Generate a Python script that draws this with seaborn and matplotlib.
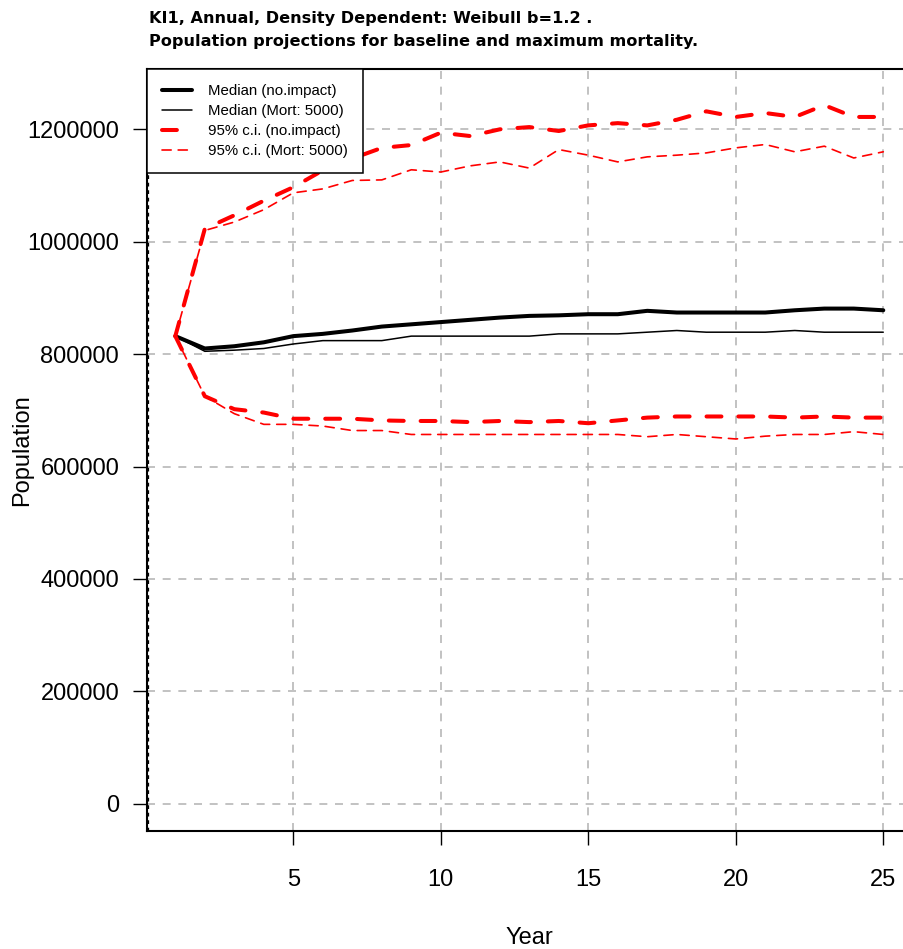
import matplotlib
matplotlib.use("Agg")
import matplotlib.pyplot as plt
import numpy as np
import pandas as pd
import seaborn as sns

# Projection years
years = list(range(1, 26))

# Population projections (individuals)
median_base = [832000, 810000, 814000, 821000, 832000, 836000, 842000, 849000, 853000,
               857000, 861000, 865000, 868000, 869000, 871000, 871000, 877000, 874000,
               874000, 874000, 874000, 878000, 881000, 881000, 878000]
median_mort = [832000, 805000, 807000, 810000, 818000, 824000, 824000, 824000, 832000,
               832000, 832000, 832000, 832000, 836000, 836000, 836000, 839000, 842000,
               839000, 839000, 839000, 842000, 839000, 839000, 839000]
upper_base = [832000, 1023000, 1047000, 1073000, 1097000, 1127000, 1148000, 1167000,
              1172000, 1194000, 1188000, 1200000, 1204000, 1197000, 1207000, 1211000,
              1207000, 1217000, 1232000, 1222000, 1229000, 1222000, 1243000, 1222000,
              1222000]
upper_mort = [832000, 1020000, 1035000, 1057000, 1087000, 1094000, 1109000, 1110000,
              1128000, 1124000, 1135000, 1142000, 1131000, 1164000, 1154000, 1142000,
              1151000, 1154000, 1158000, 1167000, 1173000, 1160000, 1170000, 1149000,
              1160000]
lower_base = [832000, 725000, 702000, 696000, 685000, 685000, 685000, 682000, 681000,
              681000, 679000, 681000, 679000, 681000, 677000, 682000, 687000, 689000,
              689000, 689000, 689000, 687000, 689000, 687000, 687000]
lower_mort = [832000, 725000, 694000, 675000, 675000, 672000, 664000, 664000, 657000,
              657000, 657000, 657000, 657000, 657000, 657000, 657000, 653000, 657000,
              653000, 649000, 654000, 657000, 657000, 662000, 657000]

x_ticks = [5, 10, 15, 20, 25]
y_ticks = [0, 200000, 400000, 600000, 800000, 1000000, 1200000]

title_lines = ["KI1, Annual, Density Dependent: Weibull b=1.2 .",
               "Population projections for baseline and maximum mortality."]
legend_labels = ["Median (no.impact)", "Median (Mort: 5000)",
                 "95% c.i. (no.impact)", "95% c.i. (Mort: 5000)"]

sns.set_style("white")
plt.rcParams["font.family"] = ["Liberation Sans", "DejaVu Sans"]
plt.rcParams["text.color"] = "black"
plt.rcParams["axes.labelcolor"] = "black"

W, H = 904, 949
fig = plt.figure(figsize=(W / 100, H / 100), dpi=100)
ax = fig.add_axes([147 / W, 1 - 831 / H, 764.6 / W, 761.7 / H])

thick_dash = (0, (3.7, 4.2))
thin_dash = (0, (5.5, 4.2))
common = dict(dash_capstyle="round", solid_capstyle="round",
              dash_joinstyle="round", solid_joinstyle="round")

sns.lineplot(x=years, y=median_base, ax=ax, color="black", lw=2.9,
             label=legend_labels[0], **common)
sns.lineplot(x=years, y=median_mort, ax=ax, color="black", lw=1.1,
             label=legend_labels[1], **common)
sns.lineplot(x=years, y=upper_base, ax=ax, color="#ff0000", lw=2.9,
             linestyle=thick_dash, label=legend_labels[2], **common)
sns.lineplot(x=years, y=upper_mort, ax=ax, color="#ff0000", lw=1.2,
             linestyle=thin_dash, label=legend_labels[3], **common)
sns.lineplot(x=years, y=lower_base, ax=ax, color="#ff0000", lw=2.9,
             linestyle=thick_dash, **common)
sns.lineplot(x=years, y=lower_mort, ax=ax, color="#ff0000", lw=1.2,
             linestyle=thin_dash, **common)

ax.set_xlim(0.04, 25.96)
ax.set_ylim(-48600, 1306800)
ax.set_xticks(x_ticks)
ax.set_xticklabels([str(v) for v in x_ticks])
ax.set_yticks(y_ticks)
ax.set_yticklabels([str(v) for v in y_ticks])

# dashed reference grid
ax.set_axisbelow(True)
ax.grid(True, color="#b8b8b8", lw=1.2, linestyle=(0, (4.8, 4.6)))
ax.axvline(0.07, color="black", lw=0.9, linestyle=(0, (3, 3)), zorder=1)

for side in ["top", "left", "bottom", "right"]:
    ax.spines[side].set_visible(True)
    ax.spines[side].set_color("black")
    ax.spines[side].set_linewidth(1.5)

ax.tick_params(axis="both", direction="out", length=10, width=1.0,
               colors="black", labelsize=17, left=True, bottom=True)
ax.tick_params(axis="x", pad=17.5)
ax.tick_params(axis="y", pad=10)

ax.set_xlabel("Year", fontsize=17, color="black")
ax.xaxis.set_label_coords(0.5, -(938 - 831) / 761.7)
ax.xaxis.label.set_va("center")
ax.set_ylabel("Population", fontsize=17, color="black")
ax.yaxis.set_label_coords((22 - 147) / 764.6, 0.5)
ax.yaxis.label.set_va("center")

leg = ax.legend(loc="upper left", bbox_to_anchor=(0, 1), borderaxespad=0,
                fontsize=10.8, frameon=True, fancybox=False, shadow=False,
                handlelength=2.0, handletextpad=1.1, borderpad=1.0,
                labelspacing=0.4)
leg.get_frame().set_edgecolor("black")
leg.get_frame().set_linewidth(1.1)
leg.get_frame().set_facecolor("white")
leg.get_frame().set_alpha(1)
for t in leg.get_texts():
    t.set_color("black")

for i, line in enumerate(title_lines):
    fig.text(149 / W, 1 - (22.7 + 23 * i) / H, line, ha="left", va="baseline",
             fontsize=11.6, fontweight="bold", family=["DejaVu Sans"], color="black")

fig.savefig("out.png", dpi=100)
